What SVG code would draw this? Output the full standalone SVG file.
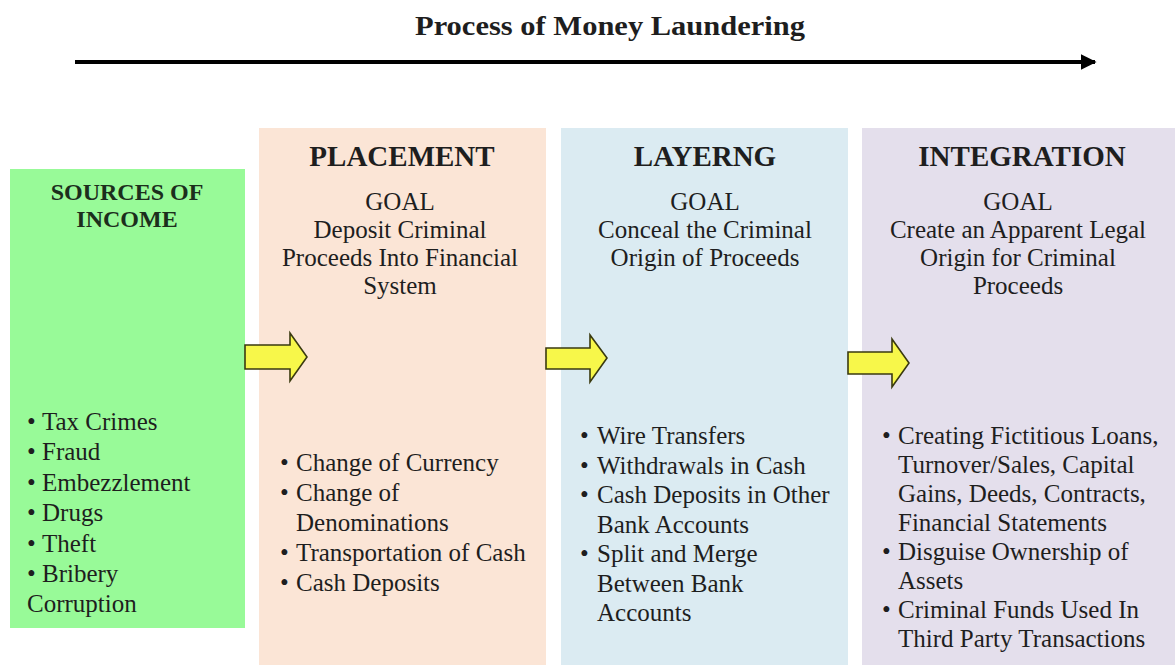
<svg xmlns="http://www.w3.org/2000/svg" width="1175" height="665" viewBox="0 0 1175 665">
<style>
text{font-family:"Liberation Serif","Times New Roman",serif;fill:#1e1e1e}
.title{font-size:28px;font-weight:bold;text-anchor:middle}
.head{font-size:29px;font-weight:bold;text-anchor:middle}
.goal{font-size:25px;text-anchor:middle}
.item{font-size:25px}
.src{font-size:24px;font-weight:bold;text-anchor:middle;fill:#1c2e1c}
.yarrow{fill:#f7f74a;stroke:#3a3a10;stroke-width:1.6;stroke-linejoin:miter}
</style>
<defs>
<marker id="ah" viewBox="0 0 10 10" refX="9" refY="5" markerWidth="4" markerHeight="4" orient="auto" markerUnits="strokeWidth">
<path d="M0,0 L10,5 L0,10 z" fill="#000"/>
</marker>
</defs>
<rect width="1175" height="665" fill="#fff"/>
<g id="title">
<text class="title" x="610" y="35" textLength="390" lengthAdjust="spacingAndGlyphs">Process of Money Laundering</text>
</g>
<g id="sources">
<rect x="10" y="169" width="235" height="459" fill="#98fa98"/>
<text class="src" x="127" y="200">SOURCES OF</text>
<text class="src" x="127" y="227">INCOME</text>
<text class="item" x="27" y="430">•<tspan x="42">Tax Crimes</tspan></text>
<text class="item" x="27" y="460">•<tspan x="42">Fraud</tspan></text>
<text class="item" x="27" y="491">•<tspan x="42">Embezzlement</tspan></text>
<text class="item" x="27" y="521">•<tspan x="42">Drugs</tspan></text>
<text class="item" x="27" y="552">•<tspan x="42">Theft</tspan></text>
<text class="item" x="27" y="582">•<tspan x="42">Bribery</tspan></text>
<text class="item" x="27" y="612">Corruption</text>
</g>
<g id="placement">
<rect x="259" y="128" width="287" height="537" fill="#fbe5d6"/>
<text class="head" x="402" y="166">PLACEMENT</text>
<text class="goal" x="400" y="210">GOAL</text>
<text class="goal" x="400" y="238">Deposit Criminal</text>
<text class="goal" x="400" y="266">Proceeds Into Financial</text>
<text class="goal" x="400" y="294">System</text>
<text class="item" x="280" y="471">•<tspan x="296">Change of Currency</tspan></text>
<text class="item" x="280" y="501">•<tspan x="296">Change of</tspan></text>
<text class="item" x="296" y="531">Denominations</text>
<text class="item" x="280" y="561">•<tspan x="296">Transportation of Cash</tspan></text>
<text class="item" x="280" y="591">•<tspan x="296">Cash Deposits</tspan></text>
</g>
<g id="layering">
<rect x="561" y="128" width="287" height="537" fill="#dbebf2"/>
<text class="head" x="705" y="166">LAYERNG</text>
<text class="goal" x="705" y="210">GOAL</text>
<text class="goal" x="705" y="238">Conceal the Criminal</text>
<text class="goal" x="705" y="266">Origin of Proceeds</text>
<text class="item" x="580" y="444">•<tspan x="597">Wire Transfers</tspan></text>
<text class="item" x="580" y="473.5">•<tspan x="597">Withdrawals in Cash</tspan></text>
<text class="item" x="580" y="503">•<tspan x="597">Cash Deposits in Other</tspan></text>
<text class="item" x="597" y="532.5">Bank Accounts</text>
<text class="item" x="580" y="562">•<tspan x="597">Split and Merge</tspan></text>
<text class="item" x="597" y="591.5">Between Bank</text>
<text class="item" x="597" y="621">Accounts</text>
</g>
<g id="integration">
<rect x="862" y="128" width="313" height="537" fill="#e4dfec"/>
<text class="head" x="1022" y="166">INTEGRATION</text>
<text class="goal" x="1018" y="210">GOAL</text>
<text class="goal" x="1018" y="238">Create an Apparent Legal</text>
<text class="goal" x="1018" y="266">Origin for Criminal</text>
<text class="goal" x="1018" y="294">Proceeds</text>
<text class="item" x="882" y="444">•<tspan x="898">Creating Fictitious Loans,</tspan></text>
<text class="item" x="898" y="473">Turnover/Sales, Capital</text>
<text class="item" x="898" y="502">Gains, Deeds, Contracts,</text>
<text class="item" x="898" y="531">Financial Statements</text>
<text class="item" x="882" y="560">•<tspan x="898">Disguise Ownership of</tspan></text>
<text class="item" x="898" y="589">Assets</text>
<text class="item" x="882" y="618">•<tspan x="898">Criminal Funds Used In</tspan></text>
<text class="item" x="898" y="647">Third Party Transactions</text>
</g>
<g id="connectors">
<line x1="75" y1="62" x2="1095" y2="62" stroke="#000" stroke-width="4" marker-end="url(#ah)"/>
<path class="yarrow" d="M245,345 H290 V333 L307,357 L290,381 V369 H245 Z"/>
<path class="yarrow" d="M546,348 H590 V335 L607,358 L590,382 V369 H546 Z"/>
<path class="yarrow" d="M848,352 H892 V339 L909,363 L892,387 V374 H848 Z"/>
</g>
</svg>
